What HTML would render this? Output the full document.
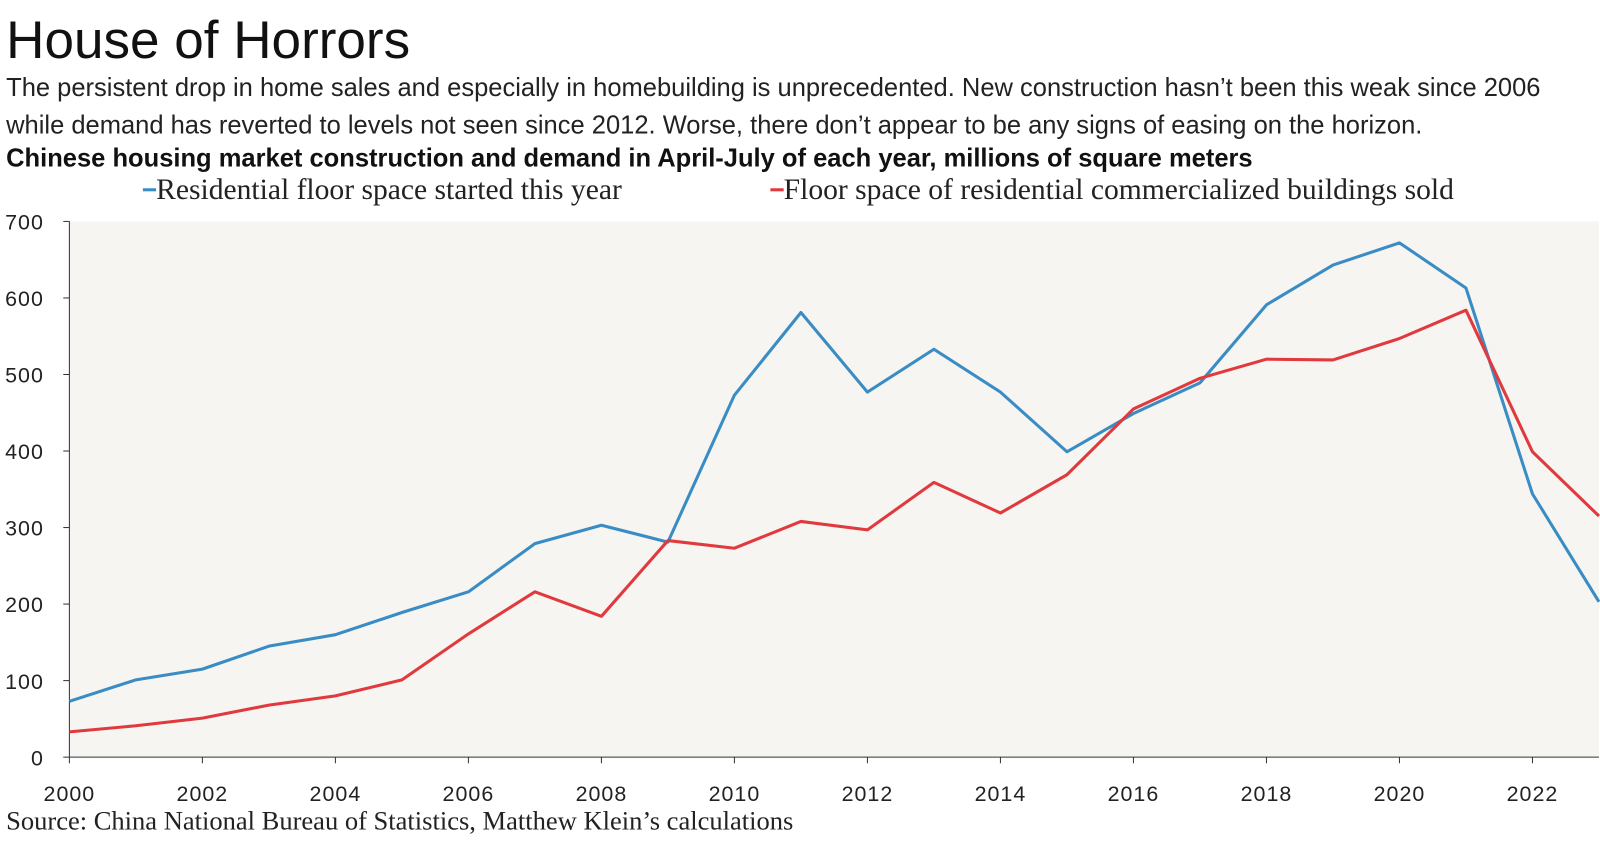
<!DOCTYPE html>
<html><head><meta charset="utf-8"><style>
body{margin:0;width:1600px;height:840px;background:#fff;overflow:hidden;font-family:"Liberation Sans",sans-serif;color:#111}
#wrap{position:absolute;left:0;top:0;width:1568px;height:824px;transform:scale(1.0204);transform-origin:0 0}
.t{position:absolute;left:6px;white-space:nowrap}
</style></head><body>
<div id="wrap">
<div class="t" style="top:10px;font-size:52px;font-weight:300;line-height:60px">House of Horrors</div>
<div class="t" style="top:68px;font-size:25px;line-height:37px;color:#222">The persistent drop in home sales and especially in homebuilding is unprecedented. New construction hasn’t been this weak since 2006<br>while demand has reverted to levels not seen since 2012. Worse, there don’t appear to be any signs of easing on the horizon.</div>
<div class="t" style="top:141px;font-size:25px;font-weight:bold">Chinese housing market construction and demand in April-July of each year, millions of square meters</div>
<svg id="c" width="1568" height="824" style="position:absolute;left:0;top:0" font-family="Liberation Serif, serif"></svg>
</div>
<script>
const years=[2000,2001,2002,2003,2004,2005,2006,2007,2008,2009,2010,2011,2012,2013,2014,2015,2016,2017,2018,2019,2020,2021,2022,2023];
const started=[73,101,115,145,160,189,216,279,303,281,473,581,477,533,477,399,449,489,591,643,672,613,344,203];
const sold=[33,41,51,68,80,101,161,216,184,283,273,308,297,359,319,369,455,495,520,519,547,584,399,315];
const yTicks=[0,100,200,300,400,500,600,700];
const xTicks=[2000,2002,2004,2006,2008,2010,2012,2014,2016,2018,2020,2022];
const NS='http://www.w3.org/2000/svg',svg=document.getElementById('c');
const X0=68,X1=1567,Y0=742,Y1=217;
const x=v=>X0+(v-2000)/(2023-2000)*(X1-X0);
const y=v=>Y0-v/700*(Y0-Y1);
function mk(t,a,p){const e=document.createElementNS(NS,t);for(const k in a)e.setAttribute(k,a[k]);(p||svg).appendChild(e);return e;}
const bg=mk('rect',{x:X0,y:Y1,width:X1-X0,height:Y0-Y1,fill:'#f6f5f1'});


const ax=mk('line',{x1:X0,x2:X0,y1:Y1,y2:Y0,stroke:'#333','stroke-width':1});


const bx=mk('line',{x1:X0,x2:X1,y1:Y0,y2:Y0,stroke:'#333','stroke-width':1});


yTicks.forEach(v=>{mk('line',{x1:X0-6,x2:X0,y1:y(v),y2:y(v),stroke:'#333'});
 const t=mk('text',{x:43,y:y(v)+8,'text-anchor':'end','font-size':21,'letter-spacing':1,'font-family':'Liberation Sans, sans-serif','font-weight':300,fill:'#222'});t.textContent=v;
 
 });
xTicks.forEach(v=>{mk('line',{x1:x(v),x2:x(v),y1:Y0,y2:Y0+6,stroke:'#333'});
 const t=mk('text',{x:x(v),y:785,'text-anchor':'middle','font-size':21,'letter-spacing':1,'font-family':'Liberation Sans, sans-serif',fill:'#222'});t.textContent=v;
 
 });
function line(d,c,n){const p=mk('polyline',{points:d.map((v,i)=>x(years[i])+','+y(v)).join(' '),fill:'none',stroke:c,'stroke-width':3,'stroke-linejoin':'round'});
 
 }
line(started,'#3a8cc4','started-line');
line(sold,'#e0393e','sold-line');
function leg(lx,c,txt,n){const g=mk('g',{});
 mk('line',{x1:lx,x2:lx+13,y1:186,y2:186,stroke:c,'stroke-width':3},g);
 const t=mk('text',{x:lx+13,y:195,'font-size':29,fill:'#222'},g);t.textContent=txt;}
leg(140,'#3a8cc4','Residential floor space started this year','legend-started');
leg(755,'#e0393e','Floor space of residential commercialized buildings sold','legend-sold');
const s=mk('text',{x:6,y:813,'font-size':26,fill:'#222'});s.textContent='Source: China National Bureau of Statistics, Matthew Klein’s calculations';


</script>
</body></html>
